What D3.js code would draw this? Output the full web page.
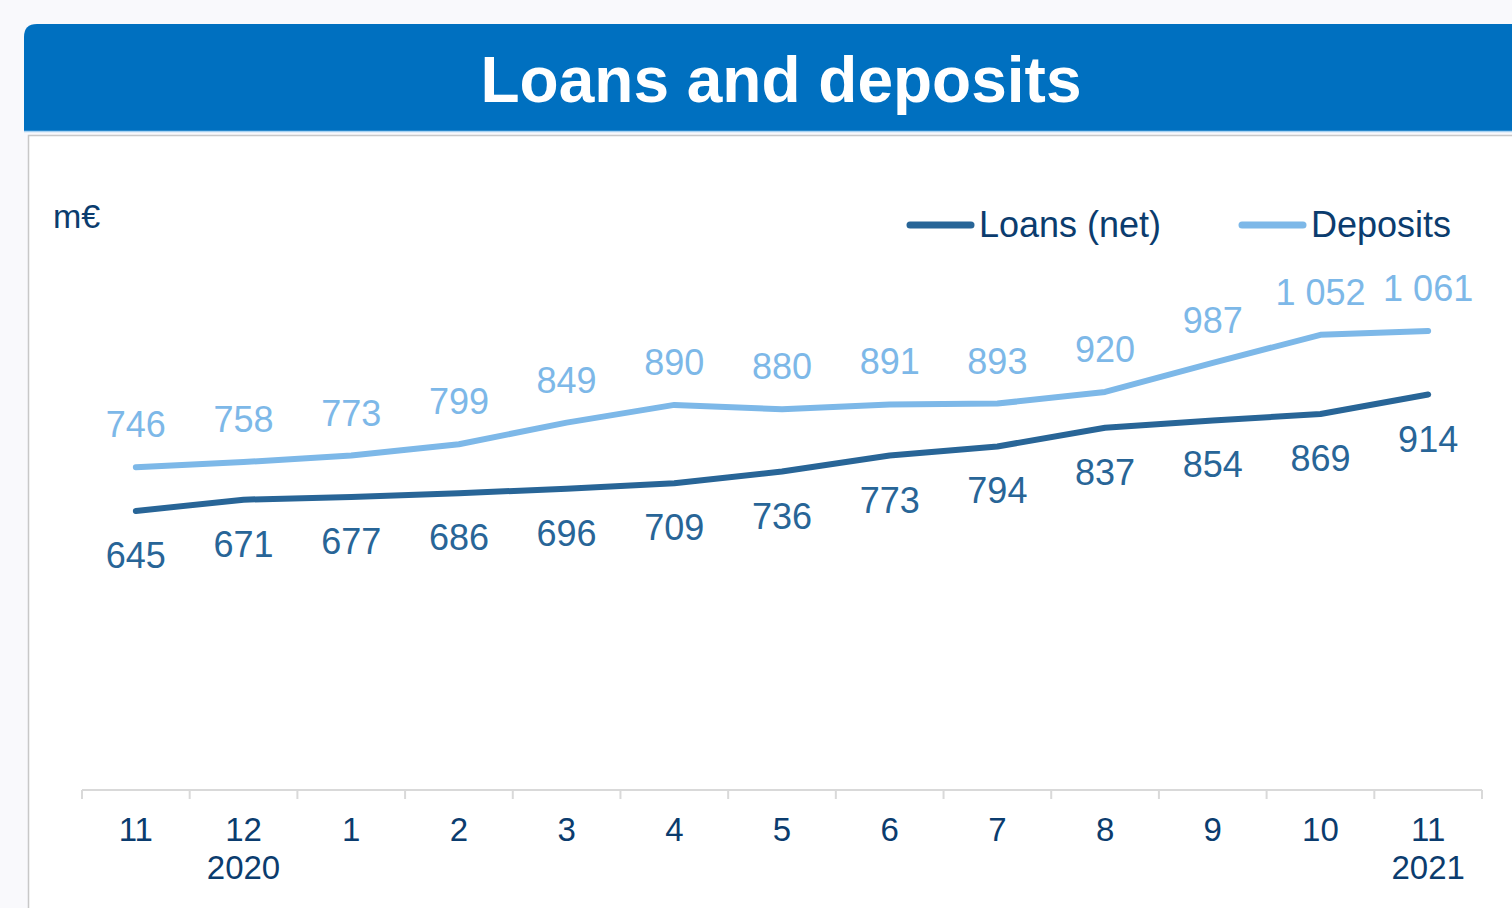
<!DOCTYPE html>
<html>
<head>
<meta charset="utf-8">
<script src="https://cdn.jsdelivr.net/npm/d3@7"></script>
<style>
  html, body { margin: 0; padding: 0; background: #f9f9fc; }
  svg { display: block; font-family: "Liberation Sans", Arial, sans-serif; }
</style>
</head>
<body>
<div id="chart"></div>
<script>
var months = ["11", "12", "1", "2", "3", "4", "5", "6", "7", "8", "9", "10", "11"];
var years = ["", "2020", "", "", "", "", "", "", "", "", "", "", "2021"];
var loans = [645, 671, 677, 686, 696, 709, 736, 773, 794, 837, 854, 869, 914];
var deposits = [746, 758, 773, 799, 849, 890, 880, 891, 893, 920, 987, 1052, 1061];

var W = 1512, H = 908;
var darkText = "#0b3c6e", loanCol = "#286597", depCol = "#7db8e8";

var svg = d3.select("#chart").append("svg")
    .attr("width", W).attr("height", H);

// white panel with grey border
svg.append("rect").attr("x", 28.5).attr("y", 135.5).attr("width", W).attr("height", H)
    .attr("fill", "#ffffff").attr("stroke", "#c8c8c8").attr("stroke-width", 1.5);

// title bar, rounded top-left corner
var r = 13, bx = 24, by = 24, bh = 107;
svg.append("path")
    .attr("d", "M" + bx + "," + (by + bh) + " V" + (by + r) + " Q" + bx + "," + by + " " + (bx + r) + "," + by + " H" + (W + 5) + " V" + (by + bh) + " Z")
    .attr("fill", "#0070c0");
svg.append("line").attr("x1", bx).attr("x2", W).attr("y1", by + bh + 0.5).attr("y2", by + bh + 0.5)
    .attr("stroke", "#a9d3f2").attr("stroke-width", 1.5);
svg.append("text").attr("x", 781).attr("y", 102).attr("text-anchor", "middle")
    .style("font-size", "64px").style("font-weight", "bold").style("fill", "#ffffff")
    .text("Loans and deposits");

// scales
var x = d3.scaleBand().domain(d3.range(months.length)).range([82, 1482]);
var y = d3.scaleLinear().domain([0, 1200]).range([790, 790 - 1200 * 0.4327]);
var cx = function (i) { return x(i) + x.bandwidth() / 2; };

// x axis: baseline plus ticks on category boundaries
svg.append("line").attr("x1", 82).attr("x2", 1482).attr("y1", 790).attr("y2", 790)
    .attr("stroke", "#d9d9d9").attr("stroke-width", 2);
var bounds = x.domain().map(function (i) { return x(i); }).concat([x(months.length - 1) + x.bandwidth()]);
svg.selectAll(".xt").data(bounds).enter().append("line")
    .attr("x1", function (d) { return d; }).attr("x2", function (d) { return d; })
    .attr("y1", 790).attr("y2", 799)
    .attr("stroke", "#d9d9d9").attr("stroke-width", 2);
svg.selectAll(".mlab").data(months).enter().append("text")
    .attr("x", function (d, i) { return cx(i); }).attr("y", 841)
    .attr("text-anchor", "middle").style("font-size", "33px").style("fill", darkText)
    .text(function (d) { return d; });
svg.selectAll(".ylab").data(years).enter().append("text")
    .attr("x", function (d, i) { return cx(i); }).attr("y", 879)
    .attr("text-anchor", "middle").style("font-size", "33px").style("fill", darkText)
    .text(function (d) { return d; });

// unit label
svg.append("text").attr("x", 53).attr("y", 228).style("font-size", "34px").style("fill", darkText).text("m€");

// lines
var line = d3.line().x(function (d, i) { return cx(i); }).y(function (d) { return y(d); });
svg.append("path").datum(deposits).attr("d", line).attr("fill", "none")
    .attr("stroke", depCol).attr("stroke-width", 6).attr("stroke-linecap", "round").attr("stroke-linejoin", "round");
svg.append("path").datum(loans).attr("d", line).attr("fill", "none")
    .attr("stroke", loanCol).attr("stroke-width", 6).attr("stroke-linecap", "round").attr("stroke-linejoin", "round");

// value labels
var fmt = function (v) { return d3.format(",")(v).replace(",", " "); };
svg.selectAll(".dlab").data(deposits).enter().append("text")
    .attr("x", function (d, i) { return cx(i); }).attr("y", function (d) { return y(d) - 30; })
    .attr("text-anchor", "middle").style("font-size", "36px").style("fill", depCol)
    .text(fmt);
svg.selectAll(".llab").data(loans).enter().append("text")
    .attr("x", function (d, i) { return cx(i); }).attr("y", function (d) { return y(d) + 57; })
    .attr("text-anchor", "middle").style("font-size", "36px").style("fill", loanCol)
    .text(fmt);

// legend
var legend = [{ name: "Loans (net)", col: loanCol, x: 910 }, { name: "Deposits", col: depCol, x: 1242 }];
var lg = svg.selectAll(".lg").data(legend).enter().append("g");
lg.append("line").attr("x1", function (d) { return d.x; }).attr("x2", function (d) { return d.x + 61; })
    .attr("y1", 225).attr("y2", 225).attr("stroke", function (d) { return d.col; })
    .attr("stroke-width", 7).attr("stroke-linecap", "round");
lg.append("text").attr("x", function (d) { return d.x + 69; }).attr("y", 237)
    .style("font-size", "36px").style("fill", darkText).text(function (d) { return d.name; });
</script>
</body>
</html>
